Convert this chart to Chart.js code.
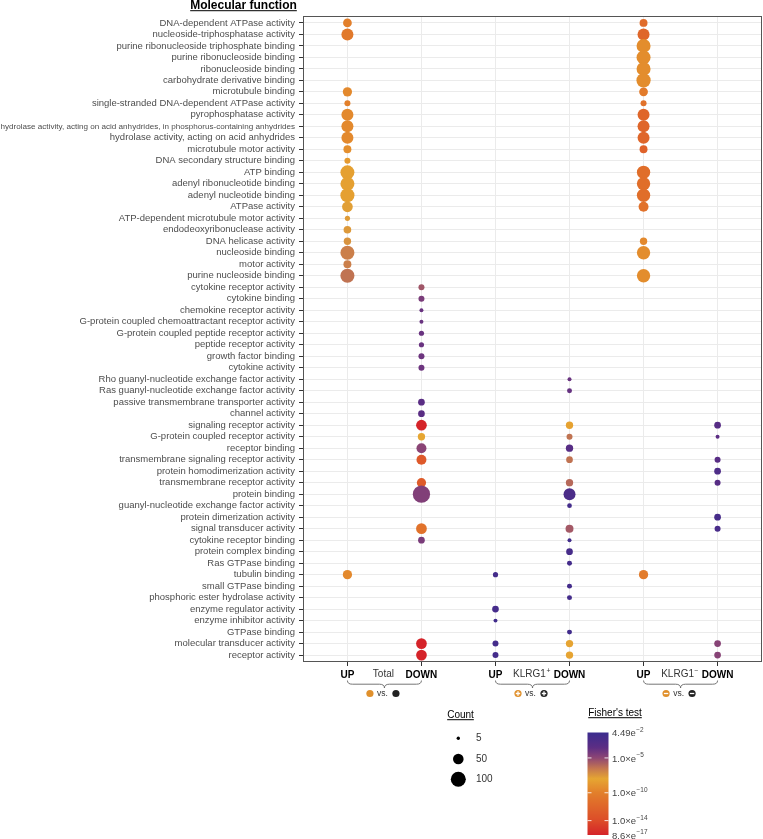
<!DOCTYPE html>
<html>
<head>
<meta charset="utf-8">
<script src="https://cdn.jsdelivr.net/npm/chart.js@4.4.1/dist/chart.umd.min.js"></script>
<style>
html,body{margin:0;padding:0;background:#fff;}
#wrap{position:relative;width:763px;height:839px;}
</style>
</head>
<body>
<div id="wrap"><canvas id="c" width="763" height="839"></canvas></div>
<script>
// ---------------- DATA ----------------
const terms = [
"DNA-dependent ATPase activity",
"nucleoside-triphosphatase activity",
"purine ribonucleoside triphosphate binding",
"purine ribonucleoside binding",
"ribonucleoside binding",
"carbohydrate derivative binding",
"microtubule binding",
"single-stranded DNA-dependent ATPase activity",
"pyrophosphatase activity",
"hydrolase activity, acting on acid anhydrides, in phosphorus-containing anhydrides",
"hydrolase activity, acting on acid anhydrides",
"microtubule motor activity",
"DNA secondary structure binding",
"ATP binding",
"adenyl ribonucleotide binding",
"adenyl nucleotide binding",
"ATPase activity",
"ATP-dependent microtubule motor activity",
"endodeoxyribonuclease activity",
"DNA helicase activity",
"nucleoside binding",
"motor activity",
"purine nucleoside binding",
"cytokine receptor activity",
"cytokine binding",
"chemokine receptor activity",
"G-protein coupled chemoattractant receptor activity",
"G-protein coupled peptide receptor activity",
"peptide receptor activity",
"growth factor binding",
"cytokine activity",
"Rho guanyl-nucleotide exchange factor activity",
"Ras guanyl-nucleotide exchange factor activity",
"passive transmembrane transporter activity",
"channel activity",
"signaling receptor activity",
"G-protein coupled receptor activity",
"receptor binding",
"transmembrane signaling receptor activity",
"protein homodimerization activity",
"transmembrane receptor activity",
"protein binding",
"guanyl-nucleotide exchange factor activity",
"protein dimerization activity",
"signal transducer activity",
"cytokine receptor binding",
"protein complex binding",
"Ras GTPase binding",
"tubulin binding",
"small GTPase binding",
"phosphoric ester hydrolase activity",
"enzyme regulator activity",
"enzyme inhibitor activity",
"GTPase binding",
"molecular transducer activity",
"receptor activity"
];
const columns = ["UP","DOWN","UP","DOWN","UP","DOWN"];
const comparisonNames = ["Total","KLRG1","KLRG1"];
const comparisonSup = ["","+","\u2212"];

const totalUpTerms = ["DNA-dependent ATPase activity","nucleoside-triphosphatase activity","microtubule binding","single-stranded DNA-dependent ATPase activity","pyrophosphatase activity","hydrolase activity, acting on acid anhydrides, in phosphorus-containing anhydrides","hydrolase activity, acting on acid anhydrides","microtubule motor activity","DNA secondary structure binding","ATP binding","adenyl ribonucleotide binding","adenyl nucleotide binding","ATPase activity","ATP-dependent microtubule motor activity","endodeoxyribonuclease activity","DNA helicase activity","nucleoside binding","motor activity","purine nucleoside binding","tubulin binding"];
const totalUpCount = [34,64,38,16,64,64,64,28,16,87,87,88,51,12,26,24,87,28,88,38];
const totalUpP = [1.0e-10,3.2e-11,3.2e-10,1.0e-10,3.2e-10,3.2e-10,3.2e-10,6.3e-10,2.5e-9,5.0e-9,5.0e-9,5.0e-9,1.6e-8,2.0e-8,2.5e-8,4.0e-8,1.6e-7,1.6e-7,4.0e-7,3.2e-10];

const totalDownTerms = ["cytokine receptor activity","cytokine binding","chemokine receptor activity","G-protein coupled chemoattractant receptor activity","G-protein coupled peptide receptor activity","peptide receptor activity","growth factor binding","cytokine activity","passive transmembrane transporter activity","channel activity","signaling receptor activity","G-protein coupled receptor activity","receptor binding","transmembrane signaling receptor activity","transmembrane receptor activity","protein binding","signal transducer activity","cytokine receptor binding","molecular transducer activity","receptor activity"];
const totalDownCount = [16,16,7,7,12,12,16,16,20,20,51,24,44,44,38,133,51,20,51,51];
const totalDownP = [3.2e-6,4.0e-5,1.3e-4,1.3e-4,1.3e-4,1.3e-4,1.0e-4,1.0e-4,4.0e-4,4.0e-4,1.0e-16,1.0e-8,1.3e-5,1.0e-13,1.6e-13,2.5e-5,1.0e-11,4.0e-5,8.6e-17,8.6e-17];

const posUpTerms = ["tubulin binding","enzyme regulator activity","enzyme inhibitor activity","molecular transducer activity","receptor activity"];
const posUpCount = [12,20,7,16,16];
const posUpP = [1.0e-2,7.9e-3,1.5e-2,1.0e-2,1.0e-2];

const posDownTerms = ["Rho guanyl-nucleotide exchange factor activity","Ras guanyl-nucleotide exchange factor activity","signaling receptor activity","G-protein coupled receptor activity","receptor binding","transmembrane signaling receptor activity","transmembrane receptor activity","protein binding","guanyl-nucleotide exchange factor activity","signal transducer activity","cytokine receptor binding","protein complex binding","Ras GTPase binding","small GTPase binding","phosphoric ester hydrolase activity","GTPase binding","molecular transducer activity","receptor activity"];
const posDownCount = [7,11,24,16,24,20,24,64,10,28,7,20,11,11,11,11,24,24];
const posDownP = [1.3e-4,1.6e-4,6.3e-9,4.0e-7,6.3e-4,4.0e-7,7.9e-7,3.2e-3,1.0e-2,2.5e-6,1.6e-2,6.3e-3,1.0e-2,1.0e-2,1.0e-2,1.6e-2,7.9e-9,7.9e-9];

const negUpTerms = ["DNA-dependent ATPase activity","nucleoside-triphosphatase activity","purine ribonucleoside triphosphate binding","purine ribonucleoside binding","ribonucleoside binding","carbohydrate derivative binding","microtubule binding","single-stranded DNA-dependent ATPase activity","pyrophosphatase activity","hydrolase activity, acting on acid anhydrides, in phosphorus-containing anhydrides","hydrolase activity, acting on acid anhydrides","microtubule motor activity","ATP binding","adenyl ribonucleotide binding","adenyl nucleotide binding","ATPase activity","DNA helicase activity","nucleoside binding","purine nucleoside binding","tubulin binding"];
const negUpCount = [28,64,87,87,87,90,34,16,64,64,64,28,79,79,79,44,24,79,79,38];
const negUpP = [2.5e-12,1.0e-12,5.0e-10,5.0e-10,5.0e-10,5.0e-10,5.0e-11,1.0e-11,1.0e-12,1.0e-12,1.0e-12,5.0e-13,5.0e-12,5.0e-12,5.0e-12,1.0e-11,3.2e-10,5.0e-10,5.0e-10,5.0e-11];

const negDownTerms = ["signaling receptor activity","G-protein coupled receptor activity","transmembrane signaling receptor activity","protein homodimerization activity","transmembrane receptor activity","protein dimerization activity","signal transducer activity","molecular transducer activity","receptor activity"];
const negDownCount = [20,7,16,20,16,20,16,20,20];
const negDownP = [6.3e-4,3.2e-4,5.0e-4,2.5e-3,6.3e-4,6.3e-3,5.0e-3,1.6e-5,1.6e-5];

const countLegendValues = [5,50,100];
const fisherMax = 4.49e-2;
const fisherMin = 8.6e-17;
const fisherTicks = [4.49e-2,1e-5,1e-10,1e-14,8.6e-17];
const fisherTickMant = ["4.49e","1.0\u00d7e","1.0\u00d7e","1.0\u00d7e","8.6\u00d7e"];
const fisherTickExp = ["\u22122","\u22125","\u221210","\u221214","\u221217"];

// ---------------- STYLE HELPERS ----------------
const FONT = '"Liberation Sans", Arial, Helvetica, sans-serif';
const colorStops = [
  [1.35,[58,44,142]],
  [3.5,[92,45,132]],
  [5.0,[142,70,116]],
  [6.5,[196,118,80]],
  [8.0,[230,166,50]],
  [10.0,[226,127,43]],
  [14.0,[220,76,41]],
  [16.07,[213,35,41]]
];
function pColor(p){
  const s = -Math.log10(p);
  if (s <= colorStops[0][0]) return rgb(colorStops[0][1]);
  for (let i=1;i<colorStops.length;i++){
    if (s <= colorStops[i][0]){
      const a=colorStops[i-1], b=colorStops[i];
      const t=(s-a[0])/(b[0]-a[0]);
      return rgb(a[1].map((v,k)=>v+(b[1][k]-v)*t));
    }
  }
  return rgb(colorStops[colorStops.length-1][1]);
}
function rgb(c){return 'rgb('+c.map(v=>Math.round(v)).join(',')+')';}
function radiusFor(count){ return 7.5*Math.sqrt(count/100); }

function series(col, t, cnt, p){
  return t.map((term,i)=>({x:col, y:terms.indexOf(term), count:cnt[i], p:p[i]}));
}
const seriesDefs = [
  series(0,totalUpTerms,totalUpCount,totalUpP),
  series(1,totalDownTerms,totalDownCount,totalDownP),
  series(2,posUpTerms,posUpCount,posUpP),
  series(3,posDownTerms,posDownCount,posDownP),
  series(4,negUpTerms,negUpCount,negUpP),
  series(5,negDownTerms,negDownCount,negDownP)
];

const datasets = seriesDefs.map(d=>({
  data:d,
  pointRadius:(ctx)=>ctx.raw ? radiusFor(ctx.raw.count) : 0,
  pointHoverRadius:(ctx)=>ctx.raw ? radiusFor(ctx.raw.count) : 0,
  pointBackgroundColor:(ctx)=>ctx.raw ? pColor(ctx.raw.p) : '#000',
  pointBorderWidth:0,
  borderWidth:0,
  showLine:false,
  clip:false
}));

// ---------------- DECORATION PLUGIN ----------------
function textSup(ctx, base, sup, x, y, size, color, align){
  ctx.font = size+'px '+FONT;
  const wb = ctx.measureText(base).width;
  ctx.font = (size*0.68)+'px '+FONT;
  const ws = ctx.measureText(sup).width;
  let start = x;
  if (align==='center') start = x-(wb+ws)/2;
  ctx.fillStyle=color; ctx.textAlign='left'; ctx.textBaseline='middle';
  ctx.font = size+'px '+FONT;
  ctx.fillText(base,start,y);
  ctx.font = (size*0.68)+'px '+FONT;
  ctx.fillText(sup,start+wb+0.5,y-size*0.38);
}
function underlinedTitle(ctx, txt, x, y, font, color){
  ctx.font=font; ctx.fillStyle=color; ctx.textAlign='center'; ctx.textBaseline='alphabetic';
  ctx.fillText(txt,x,y);
  const w=ctx.measureText(txt).width;
  ctx.fillRect(x-w/2,y+1.2,w,1);
}
function drawIcon(ctx,x,y,fill,mark){
  ctx.beginPath(); ctx.arc(x,y,3.6,0,Math.PI*2); ctx.fillStyle=fill; ctx.fill();
  if (mark){
    ctx.strokeStyle='#fff'; ctx.lineWidth=1.3; ctx.beginPath();
    ctx.moveTo(x-2.2,y); ctx.lineTo(x+2.2,y);
    if (mark==='+'){ ctx.moveTo(x,y-2.2); ctx.lineTo(x,y+2.2); }
    ctx.stroke();
  }
}
const decor = {
  id:'decor',
  afterDraw(chart){
    const ctx=chart.ctx, ca=chart.chartArea, xs=chart.scales.x;
    ctx.save();
    // panel border
    ctx.strokeStyle='#555'; ctx.lineWidth=1;
    ctx.strokeRect(ca.left+0.5,ca.top+0.5,ca.right-ca.left-1,ca.bottom-ca.top-1);
    // title
    underlinedTitle(ctx,'Molecular function',243.5,9,'bold 12px '+FONT,'#000');
    // comparison labels, braces and icons
    for (let g=0; g<3; g++){
      const x1=xs.getPixelForValue(2*g), x2=xs.getPixelForValue(2*g+1);
      const mid=(x1+x2)/2;
      textSup(ctx,comparisonNames[g],comparisonSup[g],mid-1,674.5,10,'#333','center');
      // brace
      ctx.strokeStyle='#666'; ctx.lineWidth=0.9; ctx.beginPath();
      const yt=680.5, ym=684.2, yb=688;
      ctx.moveTo(x1,yt); ctx.quadraticCurveTo(x1,ym,x1+5,ym);
      ctx.lineTo(mid-5,ym); ctx.quadraticCurveTo(mid,ym,mid,yb);
      ctx.quadraticCurveTo(mid,ym,mid+5,ym);
      ctx.lineTo(x2-5,ym); ctx.quadraticCurveTo(x2,ym,x2,yt);
      ctx.stroke();
      const c=mid-1.5;
      const mark = g===0 ? null : (g===1?'+':'-');
      drawIcon(ctx,c-13,693.5,'#e0902c',mark);
      drawIcon(ctx,c+13,693.5,'#222',mark);
      ctx.font='8.5px '+FONT; ctx.fillStyle='#333'; ctx.textAlign='center'; ctx.textBaseline='middle';
      ctx.fillText('vs.',c-0.5,694);
    }
    // Count legend
    underlinedTitle(ctx,'Count',460.5,718,'10px '+FONT,'#000');
    const ly=[738.3,759,779.3];
    countLegendValues.forEach((v,i)=>{
      ctx.beginPath(); ctx.arc(458.3,ly[i],radiusFor(v),0,Math.PI*2); ctx.fillStyle='#000'; ctx.fill();
      ctx.font='10px '+FONT; ctx.fillStyle='#333'; ctx.textAlign='left'; ctx.textBaseline='middle';
      ctx.fillText(String(v),476,ly[i]);
    });
    // Fisher's test legend
    underlinedTitle(ctx,"Fisher's test",615,716,'10px '+FONT,'#000');
    const bx=587.5, bw=21, by=732.5, bh=102.5;
    const sTop=-Math.log10(fisherMax), sBot=-Math.log10(fisherMin);
    const grad=ctx.createLinearGradient(0,by,0,by+bh);
    for (let k=0;k<=60;k++){
      const s=sTop+(sBot-sTop)*k/60;
      grad.addColorStop(k/60,pColor(Math.pow(10,-s)));
    }
    ctx.fillStyle=grad; ctx.fillRect(bx,by,bw,bh);
    fisherTicks.forEach((p,i)=>{
      const s=-Math.log10(p);
      const y=by+(s-sTop)/(sBot-sTop)*bh;
      if (i>0 && i<fisherTicks.length-1){
        ctx.strokeStyle='rgba(255,255,255,0.85)'; ctx.lineWidth=1;
        ctx.beginPath(); ctx.moveTo(bx,y); ctx.lineTo(bx+4,y); ctx.moveTo(bx+bw-4,y); ctx.lineTo(bx+bw,y); ctx.stroke();
      }
      textSup(ctx,fisherTickMant[i],fisherTickExp[i],612,y+1,9.5,'#444','left');
    });
    ctx.restore();
  }
};

// ---------------- CHART ----------------
new Chart(document.getElementById('c'),{
  type:'scatter',
  data:{datasets},
  options:{
    responsive:false,
    animation:false,
    devicePixelRatio:1,
    layout:{autoPadding:false, padding:{left:0,right:1,top:16,bottom:147}},
    plugins:{legend:{display:false},tooltip:{enabled:false},title:{display:false}},
    scales:{
      x:{
        type:'linear', min:-0.6, max:5.6,
        afterBuildTicks:(s)=>{ s.ticks=columns.map((_,i)=>({value:i})); },
        afterFit:(s)=>{ s.height=30; s.paddingLeft=0; s.paddingRight=0; },
        grid:{color:'#ebebeb',lineWidth:1,tickLength:4,tickColor:'#333',drawTicks:true},
        border:{display:false},
        ticks:{
          autoSkip:false, maxRotation:0, padding:3,
          color:'#000', font:{family:FONT,size:10,weight:'bold'},
          callback:(v)=>columns[v]
        }
      },
      y:{
        type:'linear', reverse:true, min:-0.6, max:terms.length-1+0.6,
        afterBuildTicks:(s)=>{ s.ticks=terms.map((_,i)=>({value:i})); },
        afterFit:(s)=>{ s.width=303; s.paddingTop=0; s.paddingBottom=0; },
        grid:{color:'#ebebeb',lineWidth:1,tickLength:4,tickColor:'#333',drawTicks:true},
        border:{display:false},
        ticks:{
          autoSkip:false, padding:4, color:'#4d4d4d',
          font:(ctx)=> (ctx.tick && terms[ctx.tick.value] && terms[ctx.tick.value].length>60)
             ? {family:FONT, size:8.1}
             : {family:FONT,size:9.5},
          callback:(v)=>terms[v]
        }
      }
    }
  },
  plugins:[decor]
});
</script>
</body>
</html>
